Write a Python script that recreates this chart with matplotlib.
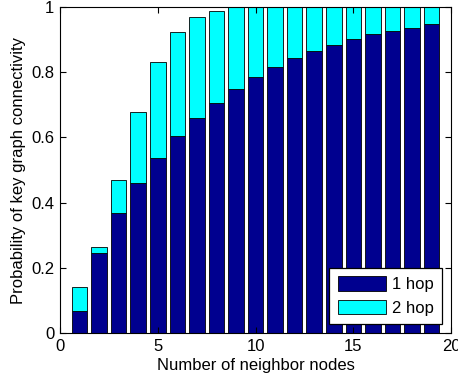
import numpy as np
import matplotlib.pyplot as plt

plt.rcParams['font.family'] = ['Liberation Sans', 'DejaVu Sans']

# connectivity probability per neighbour count
neighbors = np.arange(1, 20)
one_hop = [0.068, 0.246, 0.369, 0.459, 0.536, 0.603, 0.659, 0.707, 0.750, 0.786,
           0.817, 0.843, 0.865, 0.884, 0.902, 0.916, 0.927, 0.937, 0.947]
two_hop = [0.074, 0.018, 0.102, 0.219, 0.294, 0.319, 0.309, 0.282, 0.250, 0.214,
           0.183, 0.157, 0.135, 0.116, 0.098, 0.084, 0.073, 0.063, 0.053]

fig = plt.figure(figsize=(4.58, 3.79), dpi=100)
ax = fig.add_axes([0.131, 0.121, 0.854, 0.8605])

ax.bar(neighbors, one_hop, width=0.8, color='#00008f', edgecolor='black',
       linewidth=0.6, label='1 hop')
ax.bar(neighbors, two_hop, width=0.8, bottom=one_hop, color='#00ffff',
       edgecolor='black', linewidth=0.6, label='2 hop')

ax.set_xlim(0, 20)
ax.set_ylim(0, 1)
ax.set_xticks([0, 5, 10, 15, 20])
ax.set_yticks([0, 0.2, 0.4, 0.6, 0.8, 1])
ax.set_yticklabels(['0', '0.2', '0.4', '0.6', '0.8', '1'])
ax.tick_params(direction='in', top=True, right=True, labelsize=12, length=4,
               pad=4)
ax.set_xlabel('Number of neighbor nodes', fontsize=12, labelpad=3)
ax.set_ylabel('Probability of key graph connectivity', fontsize=12, labelpad=4)

leg = ax.legend(loc='lower right', fontsize=12, fancybox=False, framealpha=1,
                edgecolor='black', handlelength=2.9, handleheight=0.95,
                handletextpad=0.35, labelspacing=0.45, borderpad=0.5,
                borderaxespad=0.55)
leg.get_frame().set_linewidth(0.9)

fig.savefig('out.png', dpi=100)
